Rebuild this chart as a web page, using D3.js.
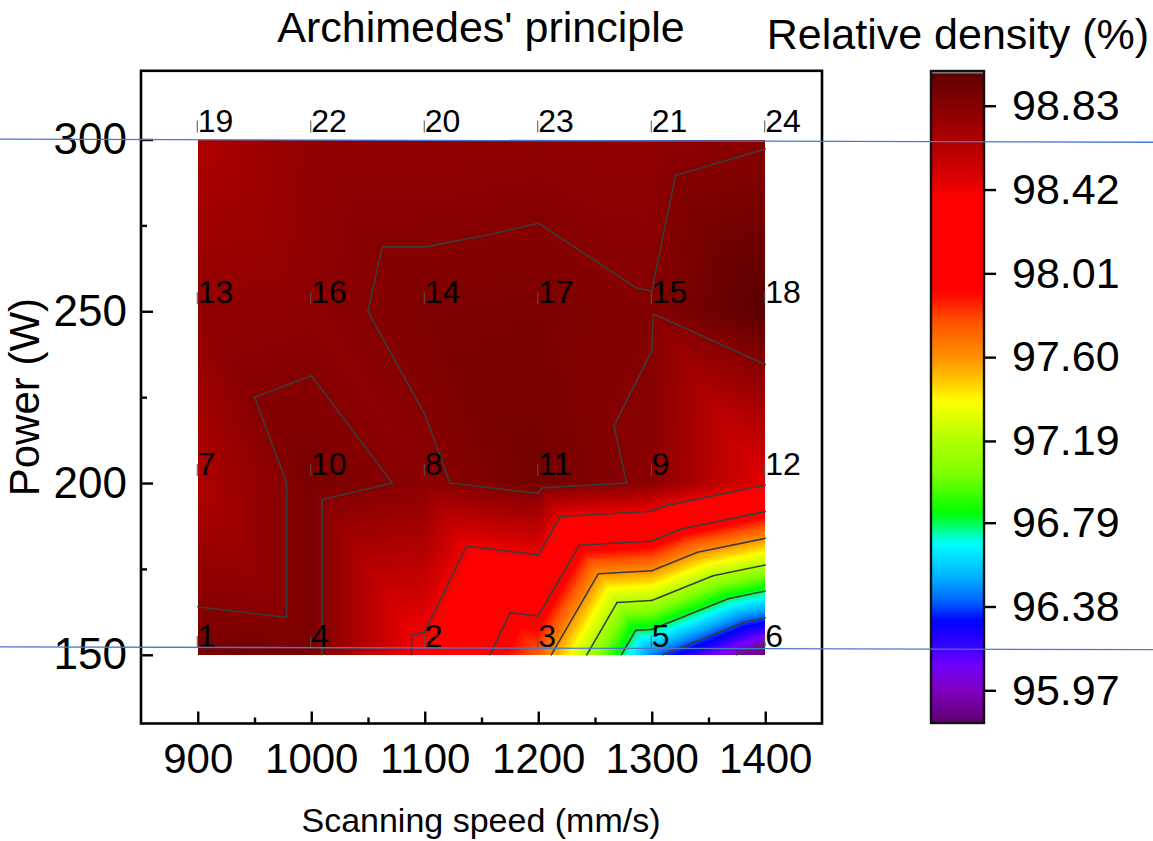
<!DOCTYPE html>
<html>
<head>
<meta charset="utf-8">
<script src="https://cdn.jsdelivr.net/npm/d3@7"></script>
<style>
  body { margin: 0; background: #fff; }
  svg { display: block; }
  text { font-family: "Liberation Sans", Arial, Helvetica, sans-serif; fill: #000; }
</style>
</head>
<body>
<svg id="chart" width="1153" height="841"></svg>
<script>
// Process window: scanning speed (mm/s) x laser power (W)
const speeds = [900, 1000, 1100, 1200, 1300, 1400];
const powers = [150, 200, 250, 300];

// Relative density (%) measured by Archimedes' principle, one row per power, ordered by speed
const density150 = [98.90, 98.88, 98.36, 97.75, 96.44, 95.81];
const density200 = [98.65, 98.88, 98.81, 98.90, 98.81, 98.45];
const density250 = [98.78, 98.80, 98.86, 98.87, 98.836, 99.00];
const density300 = [98.66, 98.78, 98.78, 98.792, 98.785, 98.82];

// Sample numbers printed at each grid point
const sample150 = [1, 4, 2, 3, 5, 6];
const sample200 = [7, 10, 8, 11, 9, 12];
const sample250 = [13, 16, 14, 17, 15, 18];
const sample300 = [19, 22, 20, 23, 21, 24];

// Contour levels (also the colour-bar ticks)
const levels = [95.97, 96.38, 96.79, 97.19, 97.60, 98.01, 98.42, 98.83];
const levelLabels = ["95.97", "96.38", "96.79", "97.19", "97.60", "98.01", "98.42", "98.83"];
const colorRange = [95.81, 99.00];

// Axis ticks
const xTicks = [900, 1000, 1100, 1200, 1300, 1400];
const xMinorTicks = [950, 1050, 1150, 1250, 1350];
const yTicks = [150, 200, 250, 300];
const yMinorTicks = [175, 225, 275];

// Rainbow palette stops (value -> colour)
const paletteValues = [95.81, 95.97, 96.10, 96.20, 96.31, 96.40, 96.52, 96.69, 96.76, 96.84,
                       97.03, 97.19, 97.39, 97.45, 97.60, 97.78, 97.92, 98.38, 98.50, 98.65, 98.83, 99.00];
const paletteColors = ["#5e006e", "#8000c0", "#7000ff", "#3000ff", "#0000ff", "#0060ff", "#00b0ff", "#00ffff", "#00ff80", "#00ff00",
                       "#80ff00", "#b0ff00", "#ffff00", "#ffd800", "#ff9000", "#ff5000", "#ff0000", "#ff0000", "#d40000", "#b00000", "#860000", "#5a0000"];

// Two guide lines drawn across the page (power value at left / right page edge)
const guideLines = [[300.1, 299.2], [152.3, 151.5]];

const grid = [density150, density200, density250, density300];
const samples = [sample150, sample200, sample250, sample300];

const W = 1153, H = 841;
const svg = d3.select("#chart");

const x = d3.scaleLinear().domain([850, 1450]).range([141, 822]);
const y = d3.scaleLinear().domain([130, 320]).range([723.5, 70.8]);
const color = d3.scaleLinear().domain(paletteValues).range(paletteColors)
  .interpolate(d3.interpolateRgb).clamp(true);

// Piecewise-linear interpolation on a triangulated grid (each cell split along
// the diagonal joining low-speed/high-power and high-speed/low-power corners)
function densityAt(s, p) {
  const i = Math.max(0, Math.min(speeds.length - 2, d3.bisectRight(speeds, s) - 1));
  const j = Math.max(0, Math.min(powers.length - 2, d3.bisectRight(powers, p) - 1));
  const u = (s - speeds[i]) / (speeds[i + 1] - speeds[i]);
  const w = (p - powers[j]) / (powers[j + 1] - powers[j]);
  const v00 = grid[j][i], v10 = grid[j][i + 1], v01 = grid[j + 1][i], v11 = grid[j + 1][i + 1];
  if (u + w <= 1) return v00 + u * (v10 - v00) + w * (v01 - v00);
  return v11 + (1 - u) * (v01 - v11) + (1 - w) * (v10 - v11);
}

// ---- colour-filled map, rasterised into an image ----
const x0 = Math.round(x(speeds[0])), x1 = Math.round(x(speeds[speeds.length - 1]));
const y0 = Math.round(y(powers[powers.length - 1])), y1 = Math.round(y(powers[0]));
const cw = x1 - x0, ch = y1 - y0;
const canvas = document.createElement("canvas");
canvas.width = cw; canvas.height = ch;
const ctx = canvas.getContext("2d");
const img = ctx.createImageData(cw, ch);
for (let py = 0; py < ch; py++) {
  const p = Math.max(powers[0], Math.min(powers[powers.length - 1], y.invert(y0 + py + 0.5)));
  for (let px = 0; px < cw; px++) {
    const s = Math.max(speeds[0], Math.min(speeds[speeds.length - 1], x.invert(x0 + px + 0.5)));
    const c = d3.rgb(color(densityAt(s, p)));
    const k = (py * cw + px) * 4;
    img.data[k] = c.r; img.data[k + 1] = c.g; img.data[k + 2] = c.b; img.data[k + 3] = 255;
  }
}
ctx.putImageData(img, 0, 0);
svg.append("image")
  .attr("x", x0).attr("y", y0).attr("width", cw).attr("height", ch)
  .attr("preserveAspectRatio", "none")
  .attr("href", canvas.toDataURL());

// ---- contour lines (marching triangles) ----
const triangles = [];
for (let j = 0; j < powers.length - 1; j++) {
  for (let i = 0; i < speeds.length - 1; i++) {
    const pt = (a, b) => ({ s: speeds[a], p: powers[b], v: grid[b][a] });
    triangles.push([pt(i, j), pt(i + 1, j), pt(i, j + 1)]);
    triangles.push([pt(i + 1, j + 1), pt(i + 1, j), pt(i, j + 1)]);
  }
}
const segments = [];
levels.forEach(L => {
  triangles.forEach(tri => {
    const pts = [];
    [[0, 1], [1, 2], [2, 0]].forEach(([a, b]) => {
      const A = tri[a], B = tri[b];
      if ((A.v - L) * (B.v - L) < 0) {
        const t = (L - A.v) / (B.v - A.v);
        pts.push([A.s + t * (B.s - A.s), A.p + t * (B.p - A.p)]);
      }
    });
    if (pts.length === 2) segments.push(pts);
  });
});
const line = d3.line().x(d => x(d[0])).y(d => y(d[1]));
svg.append("g")
  .selectAll("path").data(segments).join("path")
  .attr("d", line)
  .attr("fill", "none")
  .attr("stroke", "#3c3c3c")
  .attr("stroke-width", 1.6)
  .attr("stroke-linecap", "round");

// ---- sample number labels ----
const labelData = [];
samples.forEach((row, j) => row.forEach((n, i) => labelData.push({ s: speeds[i], p: powers[j], n })));
const lab = svg.append("g");
lab.selectAll("line").data(labelData).join("line")
  .attr("x1", d => x(d.s) - 0.5).attr("x2", d => x(d.s) - 0.5)
  .attr("y1", d => y(d.p) - 19).attr("y2", d => y(d.p) - 7)
  .attr("stroke", "#555").attr("stroke-width", 1);
lab.selectAll("text").data(labelData).join("text")
  .attr("x", d => x(d.s)).attr("y", d => y(d.p) - 8)
  .attr("font-size", 32)
  .text(d => d.n);

// ---- plot frame and axes ----
svg.append("rect")
  .attr("x", x.range()[0]).attr("y", y.range()[1])
  .attr("width", x.range()[1] - x.range()[0]).attr("height", y.range()[0] - y.range()[1])
  .attr("fill", "none").attr("stroke", "#000").attr("stroke-width", 2.6);

const axisY = svg.append("g").attr("transform", `translate(${x.range()[0]},0)`)
  .call(d3.axisLeft(y).tickValues(yTicks).tickFormat(d3.format("d"))
    .tickSizeInner(-12).tickSizeOuter(0).tickPadding(14));
axisY.select(".domain").remove();
axisY.selectAll("line").attr("stroke-width", 2.4);
axisY.selectAll("text").attr("font-size", 44).attr("font-family", null);

const axisYm = svg.append("g").attr("transform", `translate(${x.range()[0]},0)`)
  .call(d3.axisLeft(y).tickValues(yMinorTicks).tickSizeInner(-6).tickSizeOuter(0).tickFormat(""));
axisYm.select(".domain").remove();
axisYm.selectAll("line").attr("stroke-width", 2.4);

const axisX = svg.append("g").attr("transform", `translate(0,${y.range()[0]})`)
  .call(d3.axisBottom(x).tickValues(xTicks).tickFormat(d3.format("d"))
    .tickSizeInner(-12).tickSizeOuter(0).tickPadding(20));
axisX.select(".domain").remove();
axisX.selectAll("line").attr("stroke-width", 2.4);
axisX.selectAll("text").attr("font-size", 42).attr("font-family", null);

const axisXm = svg.append("g").attr("transform", `translate(0,${y.range()[0]})`)
  .call(d3.axisBottom(x).tickValues(xMinorTicks).tickSizeInner(-6).tickSizeOuter(0).tickFormat(""));
axisXm.select(".domain").remove();
axisXm.selectAll("line").attr("stroke-width", 2.4);

// ---- titles ----
svg.append("text").attr("x", 481).attr("y", 42).attr("text-anchor", "middle")
  .attr("font-size", 43).text("Archimedes' principle");
svg.append("text").attr("x", 481).attr("y", 832).attr("text-anchor", "middle")
  .attr("font-size", 34).text("Scanning speed (mm/s)");
svg.append("text").attr("transform", `translate(39,${(y.range()[0] + y.range()[1]) / 2}) rotate(-90)`)
  .attr("text-anchor", "middle").attr("font-size", 42).text("Power (W)");

// ---- colour bar ----
const cbX = 931, cbW = 53;
const cbY = d3.scaleLinear().domain(colorRange).range([723, 71]);
const grad = svg.append("defs").append("linearGradient")
  .attr("id", "cbGrad").attr("x1", 0).attr("x2", 0).attr("y1", 1).attr("y2", 0);
d3.range(0, 1.0001, 0.01).forEach(f => {
  const v = colorRange[0] + f * (colorRange[1] - colorRange[0]);
  grad.append("stop").attr("offset", f).attr("stop-color", color(v));
});
svg.append("rect").attr("x", cbX).attr("y", cbY(colorRange[1])).attr("width", cbW)
  .attr("height", cbY(colorRange[0]) - cbY(colorRange[1])).attr("fill", "url(#cbGrad)");
svg.append("rect").attr("x", cbX).attr("y", cbY(colorRange[1])).attr("width", cbW).attr("height", 2.5)
  .attr("fill", "#8c8c8c");
svg.append("rect").attr("x", cbX).attr("y", cbY(colorRange[1])).attr("width", cbW)
  .attr("height", cbY(colorRange[0]) - cbY(colorRange[1]))
  .attr("fill", "none").attr("stroke", "#111").attr("stroke-width", 2.4);

const axisC = svg.append("g").attr("transform", `translate(${cbX + cbW},0)`)
  .call(d3.axisRight(cbY).tickValues(levels).tickFormat((d, i) => levelLabels[i])
    .tickSizeInner(12).tickSizeOuter(0).tickPadding(16));
axisC.select(".domain").remove();
axisC.selectAll("line").attr("stroke-width", 2.4);
axisC.selectAll("text").attr("font-size", 43).attr("font-family", null);

svg.append("text").attr("x", 958).attr("y", 49).attr("text-anchor", "middle")
  .attr("font-size", 43).text("Relative density (%)");

// ---- guide lines across the page ----
svg.append("g").selectAll("line").data(guideLines).join("line")
  .attr("x1", 0).attr("x2", W)
  .attr("y1", d => y(d[0])).attr("y2", d => y(d[1]))
  .attr("stroke", "#4a78cf").attr("stroke-width", 1.3);
</script>
</body>
</html>
